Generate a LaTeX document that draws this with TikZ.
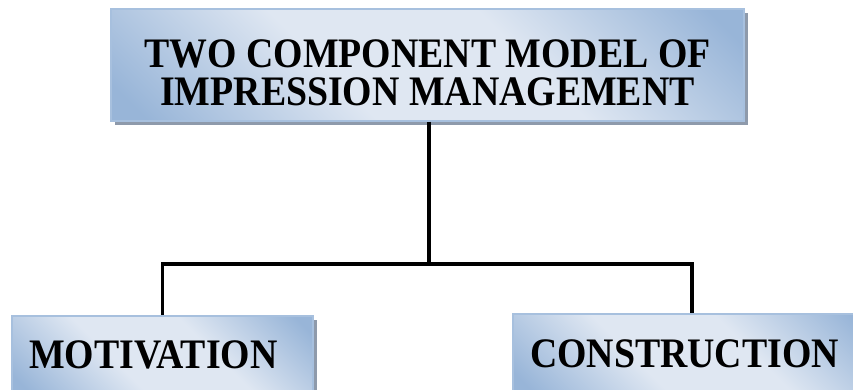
\documentclass[tikz,border=0pt]{standalone}
\usepackage{fontspec}
\setmainfont{Liberation Serif}[FakeStretch=0.9]
\usepackage{xcolor}
\usetikzlibrary{positioning,calc,shadows}
\definecolor{boxdark}{HTML}{98B5D8}
\definecolor{boxlight}{HTML}{DFE7F2}
\definecolor{boxline}{HTML}{A7C0DE}
\definecolor{shadowgray}{HTML}{8E9AAB}
\pgfdeclarehorizontalshading{diagblue}{100bp}{color(0bp)=(boxdark); color(18bp)=(boxdark); color(40bp)=(boxlight); color(60bp)=(boxlight); color(82bp)=(boxdark); color(100bp)=(boxdark)}

\begin{document}
\begin{tikzpicture}[x=1pt, y=-1pt]
        % Style definitions
        \tikzset{
            block/.style={draw=boxline, line width=1.2pt, shading=diagblue, shading angle=45, rectangle, align=center, inner sep=0pt, font=\bfseries\fontsize{42}{38}\selectfont, drop shadow={shadow xshift=4pt, shadow yshift=-4pt, fill=shadowgray, opacity=1}},
            leaf/.style={block, align=left, inner xsep=17pt},
            link/.style={draw, line width=3.5pt}
        }

        % Frame
        \useasboundingbox (0,0) rectangle (853,390);
        \clip (0,0) rectangle (853,390);

        % Nodes
        \node [block, minimum width=633pt, minimum height=112pt] (model) at (427.5,65) {\rule{0pt}{44pt}TWO COMPONENT MODEL OF\\IMPRESSION MANAGEMENT};
        \node [leaf, text width=267pt, minimum height=78pt] (motivation) at (162.5,355) {MOTIVATION};
        \node [leaf, text width=324pt, minimum height=80pt] (construction) at (692,354) {CONSTRUCTION};

        % Junction on the horizontal line
        \coordinate (bus) at (429,264);

        % Connections
        \draw [link] (model.south -| bus) -- (bus);
        \draw [link] (bus) -| (motivation.north);
        \draw [link] (bus) -| (construction.north);
    \end{tikzpicture}
\end{document}
